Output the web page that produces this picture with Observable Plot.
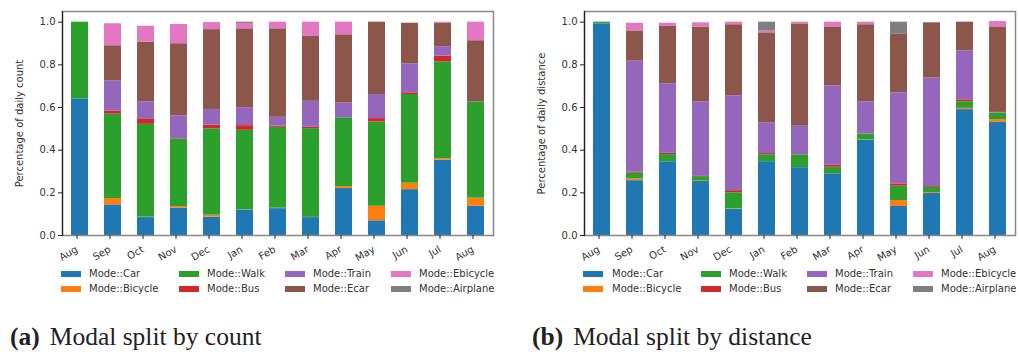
<!DOCTYPE html>
<html>
<head>
<meta charset="utf-8">
<script src="https://cdn.jsdelivr.net/npm/d3@7"></script>
<script src="https://cdn.jsdelivr.net/npm/@observablehq/plot@0.6"></script>
<style>
  html, body { margin: 0; padding: 0; background: #fff; }
  #wrap { position: relative; width: 1019px; height: 352px; overflow: hidden; background: #fff; }
  .panel { position: absolute; top: 0; }
  .leg { position: absolute; font-family: "DejaVu Sans", sans-serif; font-size: 10px; color: #333; line-height: 12px; white-space: nowrap; }
  .sw { position: absolute; width: 20px; height: 6px; }
  .cap { position: absolute; font-family: "Liberation Serif", serif; font-size: 25.5px; color: #222; white-space: nowrap; line-height: 30px; }
  .cap b { margin-right: 10px; }
</style>
</head>
<body>
<div id="wrap"></div>
<script>
const months = ["Aug","Sep","Oct","Nov","Dec","Jan","Feb","Mar","Apr","May","Jun","Jul","Aug"];
const modes = ["Mode::Car","Mode::Bicycle","Mode::Walk","Mode::Bus","Mode::Train","Mode::Ecar","Mode::Ebicycle","Mode::Airplane"];
const colors = ["#1f77b4","#ff7f0e","#2ca02c","#d62728","#9467bd","#8c564b","#e377c2","#7f7f7f"];
const yTicks = [0, 0.2, 0.4, 0.6, 0.8, 1.0];

// (a) share of daily trip count
const countCar      = [0.640,0.1435,0.084,0.128,0.086,0.119,0.126,0.084,0.220,0.069,0.215,0.353,0.137];
const countBicycle  = [0,0.030,0.002,0.008,0.009,0.001,0.002,0.001,0.009,0.068,0.030,0.007,0.038];
const countWalk     = [0.360,0.395,0.435,0.316,0.405,0.373,0.379,0.416,0.323,0.395,0.416,0.454,0.451];
const countBus      = [0,0.015,0.023,0.002,0.017,0.022,0.006,0.006,0,0.016,0.008,0.027,0];
const countTrain    = [0,0.142,0.083,0.106,0.074,0.084,0.041,0.122,0.069,0.113,0.136,0.044,0];
const countEcar     = [0,0.164,0.279,0.339,0.374,0.370,0.415,0.304,0.320,0.339,0.190,0.110,0.287];
const countEbicycle = [0,0.103,0.075,0.090,0.033,0.025,0.031,0.067,0.059,0,0,0.005,0.087];
const countAirplane = [0,0,0,0,0,0.006,0,0,0,0,0,0,0];

// (b) share of daily distance
const distCar      = [0.992,0.257,0.346,0.253,0.123,0.346,0.318,0.289,0.446,0.136,0.197,0.590,0.530];
const distBicycle  = [0,0.008,0.001,0.002,0.002,0,0,0,0.002,0.028,0.004,0.006,0.013];
const distWalk     = [0.008,0.027,0.032,0.021,0.075,0.032,0.060,0.031,0.028,0.067,0.024,0.031,0.031];
const distBus      = [0,0.006,0.006,0.001,0.010,0.006,0.001,0.009,0,0.011,0.004,0.009,0.001];
const distTrain    = [0,0.519,0.326,0.350,0.445,0.143,0.133,0.373,0.151,0.427,0.509,0.230,0.002];
const distEcar     = [0,0.142,0.269,0.350,0.333,0.423,0.480,0.273,0.361,0.276,0.259,0.134,0.401];
const distEbicycle = [0,0.036,0.015,0.020,0.012,0.008,0.008,0.025,0.012,0,0,0,0.025];
const distAirplane = [0,0,0,0,0,0.042,0,0,0,0.055,0,0,0];

function toRows(series) {
  const rows = [];
  months.forEach((m, i) => {
    modes.forEach((mode, k) => rows.push({i, mode, value: series[k][i]}));
  });
  return rows;
}
const countRows = toRows([countCar,countBicycle,countWalk,countBus,countTrain,countEcar,countEbicycle,countAirplane]);
const distRows = toRows([distCar,distBicycle,distWalk,distBus,distTrain,distEcar,distEbicycle,distAirplane]);

function chart(rows, ylabel, ml, mr) {
  return Plot.plot({
    width: 509, height: 265,
    marginTop: 11, marginBottom: 30, marginLeft: ml, marginRight: mr,
    style: {fontFamily: "DejaVu Sans, sans-serif", fontSize: "10px", color: "#333", background: "white"},
    x: {type: "band", domain: d3.range(months.length), paddingInner: 0.5, paddingOuter: 0.25, align: 0.5},
    y: {domain: [0, 1.05]},
    color: {domain: modes, range: colors},
    marks: [
      Plot.barY(rows, Plot.stackY({x: "i", y: "value", fill: "mode", order: modes})),
      Plot.frame({stroke: "#888", strokeWidth: 1.5}),
      Plot.frame({anchor: "left", stroke: "#222", strokeWidth: 1.2}),
      Plot.axisX({tickFormat: i => months[i], tickRotate: -30, tickSize: 4, tickPadding: 9, dx: -3, label: null, stroke: "#222"}),
      Plot.axisY({ticks: yTicks, tickFormat: d3.format(".1f"), tickSize: 4, tickPadding: 3, stroke: "#222",
                  label: ylabel, labelAnchor: "center", labelArrow: "none", labelOffset: 47})
    ]
  });
}

const wrap = document.getElementById("wrap");
function addPanel(left, svg) {
  const d = document.createElement("div");
  d.className = "panel";
  d.style.left = left + "px";
  d.appendChild(svg);
  wrap.appendChild(d);
}
addPanel(0, chart(countRows, "Percentage of daily count", 62, 16));
addPanel(510, chart(distRows, "Percentage of daily distance", 74, 4));

function addLegend(swX, txtX) {
  const rowsY = [274.3, 289.3];
  modes.forEach((m, k) => {
    const col = Math.floor(k / 2), row = k % 2;
    const sw = document.createElement("div");
    sw.className = "sw";
    sw.style.background = colors[k];
    sw.style.left = swX[col] + "px";
    sw.style.top = (rowsY[row] - 3) + "px";
    wrap.appendChild(sw);
    const t = document.createElement("div");
    t.className = "leg";
    t.textContent = m;
    t.style.left = txtX[col] + "px";
    t.style.top = (rowsY[row] - 6) + "px";
    wrap.appendChild(t);
  });
}
addLegend([61, 179, 285, 391], [89, 207, 313, 419]);
addLegend([583, 701, 807, 913], [612, 729, 835, 941]);

function addCaption(left, label, text) {
  const c = document.createElement("div");
  c.className = "cap";
  c.style.left = left + "px";
  c.style.top = "322px";
  const b = document.createElement("b");
  b.textContent = label;
  c.appendChild(b);
  c.appendChild(document.createTextNode(text));
  wrap.appendChild(c);
}
addCaption(10, "(a)", "Modal split by count");
addCaption(532, "(b)", "Modal split by distance");
</script>
</body>
</html>
